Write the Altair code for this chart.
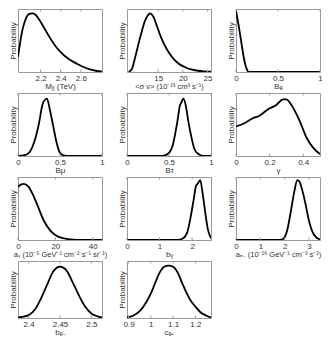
import altair as alt
import pandas as pd

# ---- data (normalised height of each posterior) ----
mx_x = [1.976, 2.019, 2.052, 2.084, 2.117, 2.150, 2.183, 2.232, 2.298, 2.363, 2.429, 2.495, 2.561, 2.626, 2.692, 2.758, 2.81]
mx_p = [0.24, 0.66, 0.84, 0.92, 0.93, 0.91, 0.84, 0.71, 0.53, 0.38, 0.27, 0.19, 0.13, 0.08, 0.04, 0.016, 0.005]

sv_x = [9.03, 9.7, 10.37, 11.37, 12.37, 13.03, 13.37, 14.03, 14.7, 15.7, 16.7, 17.7, 19.03, 20.37, 21.7, 23.03, 24.37, 25.7]
sv_p = [0.0, 0.05, 0.24, 0.55, 0.82, 0.91, 0.93, 0.88, 0.74, 0.53, 0.37, 0.25, 0.14, 0.08, 0.04, 0.02, 0.01, 0.005]

be_x = [0.0, 0.03, 0.06, 0.09, 0.11, 0.13, 0.15, 0.2, 0.5, 1.0]
be_p = [0.97, 0.75, 0.5, 0.25, 0.12, 0.04, 0.0, 0.0, 0.0, 0.0]

bmu_x = [0.0, 0.07, 0.13, 0.19, 0.25, 0.29, 0.31, 0.345, 0.38, 0.42, 0.46, 0.5, 0.54, 0.62, 1.0]
bmu_p = [0.0, 0.01, 0.05, 0.21, 0.52, 0.81, 0.875, 0.91, 0.73, 0.47, 0.21, 0.05, 0.01, 0.0, 0.0]

btau_x = [0.0, 0.4, 0.45, 0.5, 0.55, 0.6, 0.63, 0.65, 0.67, 0.7, 0.73, 0.77, 0.8, 0.84, 0.88, 0.92, 1.0]
btau_p = [0.0, 0.0, 0.01, 0.05, 0.2, 0.55, 0.8, 0.86, 0.91, 0.8, 0.55, 0.28, 0.12, 0.04, 0.01, 0.0, 0.0]

gam_x = [0.0, 0.05, 0.1, 0.14, 0.19, 0.24, 0.28, 0.30, 0.33, 0.38, 0.42, 0.46, 0.5]
gam_p = [0.47, 0.52, 0.60, 0.64, 0.74, 0.81, 0.90, 0.90, 0.81, 0.55, 0.29, 0.13, 0.03]

ag_x = [0.0, 1.5, 3.2, 5.8, 8.0, 10.3, 13.8, 17.3, 21.8, 28.0, 35.0, 45.0]
ag_p = [0.84, 0.88, 0.89, 0.84, 0.72, 0.56, 0.31, 0.15, 0.05, 0.01, 0.0, 0.0]

bg_x = [0.0, 1.5, 1.7, 1.85, 1.95, 2.05, 2.12, 2.18, 2.25, 2.32, 2.4, 2.48, 2.55, 2.6]
bg_p = [0.0, 0.0, 0.02, 0.12, 0.35, 0.65, 0.86, 0.9, 0.95, 0.75, 0.45, 0.18, 0.06, 0.02]

ae_x = [0.0, 1.8, 1.95, 2.1, 2.25, 2.4, 2.52, 2.6, 2.7, 2.85, 3.0, 3.15, 3.3, 3.45]
ae_p = [0.0, 0.0, 0.02, 0.15, 0.45, 0.78, 0.95, 0.93, 0.82, 0.58, 0.3, 0.12, 0.04, 0.01]

be2_x = [2.383, 2.39, 2.40, 2.41, 2.42, 2.43, 2.44, 2.45, 2.46, 2.47, 2.48, 2.49, 2.50, 2.51, 2.517]
be2_p = [0.01, 0.02, 0.05, 0.15, 0.35, 0.6, 0.83, 0.9, 0.84, 0.63, 0.40, 0.2, 0.08, 0.03, 0.01]

ce_x = [0.893, 0.92, 0.95, 0.98, 1.0, 1.02, 1.04, 1.06, 1.08, 1.10, 1.12, 1.14, 1.16, 1.18, 1.20, 1.22, 1.25, 1.27]
ce_p = [0.01, 0.04, 0.12, 0.28, 0.43, 0.62, 0.8, 0.9, 0.92, 0.9, 0.8, 0.62, 0.44, 0.3, 0.2, 0.11, 0.04, 0.01]

titles = ["Mᵪ (TeV)", "<σ v> (10⁻²³ cm³ s⁻¹)", "Bₑ", "Bμ", "Bτ", "γ",
          "aᵧ (10⁻⁵ GeV⁻¹ cm⁻² s⁻¹ sr⁻¹)", "bᵧ", "aₑ₋ (10⁻²⁶ GeV⁻¹ cm⁻³ s⁻¹)", "bₑ₋", "cₑ₊"]
ticks = [[2.2, 2.4, 2.6], [15, 20, 25], [0, 0.5, 1], [0, 0.5, 1], [0, 0.5, 1], [0, 0.2, 0.4],
         [0, 20, 40], [0, 1, 2], [0, 1, 2, 3], [2.4, 2.45, 2.5], [0.9, 1, 1.1, 1.2]]
domains = [[1.976, 2.81], [8.7, 25.7], [0, 1], [0, 1], [0, 1], [0, 0.5],
           [0, 45], [0, 2.58], [0, 3.45], [2.383, 2.517], [0.893, 1.27]]
series = [(mx_x, mx_p), (sv_x, sv_p), (be_x, be_p), (bmu_x, bmu_p), (btau_x, btau_p), (gam_x, gam_p),
          (ag_x, ag_p), (bg_x, bg_p), (ae_x, ae_p), (be2_x, be2_p), (ce_x, ce_p)]

W = 84
HEIGHTS = [63, 63, 63, 63, 63, 63, 63, 63, 63, 57, 57]


def panel(i):
    h = HEIGHTS[i]
    xs, ps = series[i]
    df = pd.DataFrame({"x": xs, "p": ps})
    tdf = pd.DataFrame({"x": ticks[i]})
    xscale = alt.Scale(domain=domains[i], nice=False, zero=False)
    tsize = 7.5 if len(titles[i]) > 12 else 8
    xaxis = alt.Axis(values=ticks[i], title=titles[i], labelExpr="datum.value + ''",
                     grid=False, domain=False, ticks=False, labelFlush=False,
                     labelOverlap=False, labelSeparation=0, labelPadding=2, titlePadding=0,
                     titleFontSize=tsize)
    line = alt.Chart(df).mark_line(color="black", strokeWidth=1.8, interpolate="monotone", clip=True).encode(
        x=alt.X("x:Q", scale=xscale, axis=xaxis),
        y=alt.Y("p:Q", scale=alt.Scale(domain=[0, 1], nice=False),
                axis=alt.Axis(title="Probability", labels=False, ticks=False, grid=False,
                              domain=False, titlePadding=1)),
    )
    tb = alt.Chart(tdf).mark_rule(color="#999", strokeWidth=1).encode(
        x=alt.X("x:Q", scale=xscale, axis=xaxis), y=alt.value(h), y2=alt.value(h - 2.5))
    tt = alt.Chart(tdf).mark_rule(color="#999", strokeWidth=1).encode(
        x=alt.X("x:Q", scale=xscale, axis=xaxis), y=alt.value(0), y2=alt.value(2.5))
    return alt.layer(line, tb, tt).properties(width=W, height=h)


chart = alt.concat(*[panel(i) for i in range(11)], columns=3,
                   spacing={"row": 21, "column": 25}, bounds="flush").properties(padding=0).configure_axis(
    labelFont="Liberation Sans", titleFont="Liberation Sans", labelFontSize=8, titleFontSize=8,
    labelColor="#333", titleColor="#333", titleFontWeight="normal", labelOverlap=False
).configure_view(stroke="#999", strokeWidth=1)

chart.save("out.html", embed_options={"renderer": "svg", "actions": False})
